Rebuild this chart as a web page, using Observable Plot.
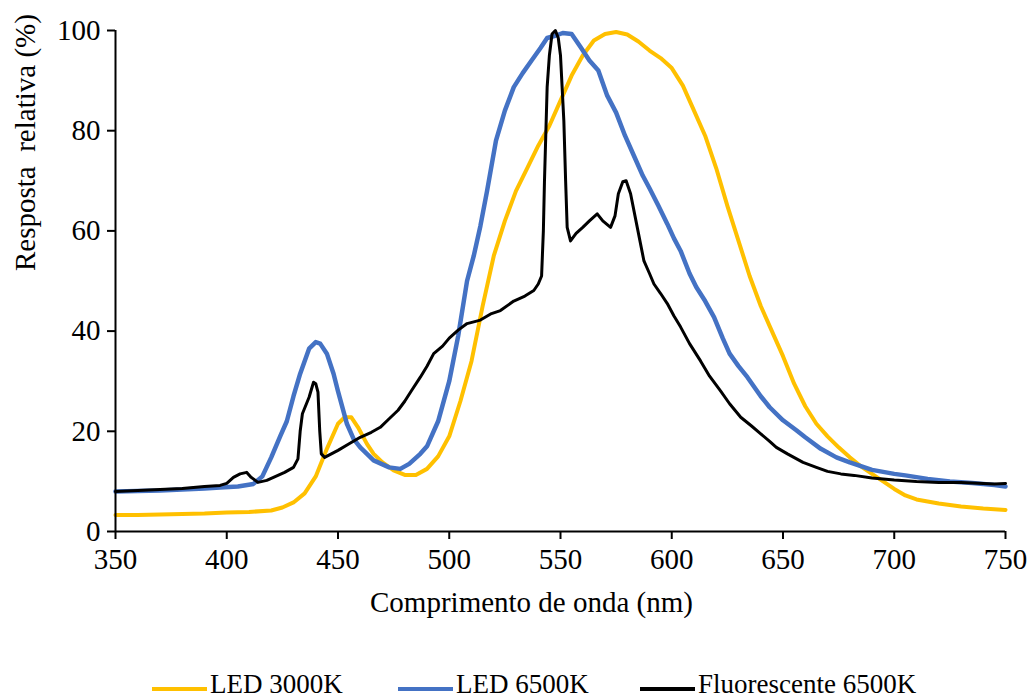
<!DOCTYPE html>
<html>
<head>
<meta charset="utf-8">
<script src="https://cdn.jsdelivr.net/npm/d3@7"></script>
<script src="https://cdn.jsdelivr.net/npm/@observablehq/plot@0.6"></script>
<style>
  html, body { margin: 0; padding: 0; background: #fff; }
  #wrap { width: 1032px; height: 700px; position: relative; overflow: hidden; font-family: 'Liberation Serif', 'DejaVu Serif', serif; }
  #legend { position: absolute; left: 0; top: 630px; width: 1032px; height: 70px; }
  .sw { position: absolute; height: 4px; top: 57px; width: 55px; }
  .lt { position: absolute; top: 41px; font-size: 27px; line-height: 27px; color: #000; white-space: nowrap; }
</style>
</head>
<body>
<div id="wrap"><div id="chart"></div><div id="legend"></div></div>
<script>
const seriesNames = ["LED 3000K", "LED 6500K", "Fluorescente 6500K"];
const seriesColors = ["#FFC000", "#4472C4", "#000000"];
const xTicks = [350, 400, 450, 500, 550, 600, 650, 700, 750];
const yTicks = [0, 20, 40, 60, 80, 100];
const xLabel = "Comprimento de onda (nm)";
const yLabel = "Resposta  relativa (%)";

const led3000Nm = [350,360,370,380,390,400,410,420,425,430,435,440,445,450,453,456,459,463,466,470,475,480,485,490,495,500,505,510,515,520,525,530,535,540,545,550,555,560,565,570,575,580,585,590,595,600,605,610,615,620,625,630,635,640,645,650,655,660,665,670,675,680,685,690,695,700,705,710,720,730,740,750];
const led3000Val = [3.3,3.3,3.4,3.5,3.6,3.8,3.9,4.2,4.8,5.8,7.6,11,16.5,21.5,22.8,22.8,20.8,17.5,15.5,13.8,12.2,11.3,11.3,12.5,15,19,26,34,45,55,62,68,72.5,77,81,86,91,95,98,99.3,99.7,99.2,97.8,96,94.5,92.5,89,84,79,72.5,65,58,51,45,40,35,29.5,25,21.5,19,16.8,14.8,13,11.5,10,8.5,7.2,6.4,5.6,5,4.6,4.3];

const led6500Nm = [350,360,370,380,390,397,405,412,416,420,424,427,430,433,437,440,442,445,448,450,454,457,460,466,473,478,482,487,490,495,500,504,508,511,514,517,521,525,529,533,537,541,544,548,551,555,559,563,567,571,575,579,583,587,590,594,598,601,604,608,611,615,619,623,626,630,634,640,644,650,656,660,667,674,680,690,700,705,715,725,735,745,750];
const led6500Val = [8,8.1,8.2,8.4,8.6,8.8,9,9.5,11,14.8,19,22,27,31.5,36.5,37.8,37.5,35.5,31.5,28,21.5,18.5,16.8,14.2,12.8,12.5,13.5,15.5,17,22,30,39,50,55,61,68,78,84,88.7,91.5,94,96.5,98.5,99,99.5,99.3,96.7,94,92,87,83.6,79,75,71,68.5,65,61.4,58.5,56,51.5,48.8,46,42.8,38.5,35.5,33,30.8,27,24.8,22.2,20.2,18.8,16.5,14.8,13.8,12.3,11.5,11.2,10.5,10,9.7,9.3,9];

const fluorNm = [350,360,370,380,390,397,400,403,406,409,411,414,418,421,426,430,432,433,434,437,439,440,441,441.8,442.5,444,447,450,455,460,465,469,473,477,480,483,487,490,493,497,500,504,508,514,519,523,529,534,538,540,541.5,542.3,542.8,544,545,546.2,547.7,549,550,551.5,552.3,553,554.5,557,560,563,566.5,569,572.5,574.5,576,578,579.5,581.5,584.5,587.5,590,592,595,598,601,604,608,613,617,622,626,631,636,640,644,647,652,659,665,670,676,682,690,700,710,720,730,740,745,750];
const fluorVal = [8,8.2,8.4,8.6,9,9.2,9.6,10.8,11.5,11.8,10.8,9.8,10.2,10.8,11.8,12.8,14.5,20,23.5,26.8,29.8,29.5,27.8,20,15.5,14.8,15.5,16.2,17.5,18.8,19.8,20.8,22.5,24.2,26,28.1,30.8,33,35.5,37,38.6,40.2,41.5,42.2,43.5,44.1,46,47,48.1,49.4,51,60,70,88.7,95,99.3,100,98.5,95,82,70,60.7,58,59.5,60.7,62,63.4,62,60.7,63,67.4,69.8,70,67.4,60.7,54,51.5,49.4,47.5,45.5,43,40.8,37.5,34,31,28,25.5,22.8,21,19.5,18,16.8,15.5,13.8,12.8,12,11.5,11.2,10.7,10.3,10,9.8,9.8,9.6,9.5,9.6];

const toRows = (name, xs, ys) => xs.map((x, i) => ({series: name, nm: x, val: ys[i]}));
const rows3000 = toRows(seriesNames[0], led3000Nm, led3000Val);
const rows6500 = toRows(seriesNames[1], led6500Nm, led6500Val);
const rowsFluor = toRows(seriesNames[2], fluorNm, fluorVal);

const font = "'Liberation Serif', 'DejaVu Serif', serif";

const chart = Plot.plot({
  width: 1032,
  height: 630,
  marginLeft: 115,
  marginRight: 27,
  marginTop: 30,
  marginBottom: 99,
  style: {fontFamily: font, fontSize: "29px", color: "#000", background: "#fff", overflow: "visible"},
  x: {domain: [350, 750]},
  y: {domain: [0, 100]},
  marks: [
    Plot.line(rows3000, {x: "nm", y: "val", stroke: seriesColors[0], strokeWidth: 4, curve: "linear"}),
    Plot.line(rows6500, {x: "nm", y: "val", stroke: seriesColors[1], strokeWidth: 4.5, curve: "linear"}),
    Plot.line(rowsFluor, {x: "nm", y: "val", stroke: seriesColors[2], strokeWidth: 3, curve: "linear"}),
    Plot.ruleX([350], {stroke: "#000", strokeWidth: 2}),
    Plot.ruleY([0], {stroke: "#000", strokeWidth: 2}),
    Plot.axisX({ticks: xTicks, tickSize: 8, tickPadding: 9, fontSize: 29, label: null, strokeWidth: 2, tickFormat: d => String(d)}),
    Plot.axisY({ticks: yTicks, tickSize: 8, tickPadding: 7, fontSize: 29, label: null, strokeWidth: 2, tickFormat: d => String(d)}),
    Plot.text([xLabel], {frameAnchor: "bottom", dx: -29, dy: 80, fontSize: 29, fill: "#000"}),
    Plot.text([yLabel], {frameAnchor: "left", dx: -90, dy: -10, rotate: -90, fontSize: 29, fill: "#000"})
  ]
});
document.getElementById("chart").appendChild(chart);

const legend = document.getElementById("legend");
const swLeft = [152, 398, 640];
seriesNames.forEach((name, i) => {
  const sw = document.createElement("div");
  sw.className = "sw";
  sw.style.left = swLeft[i] + "px";
  sw.style.background = seriesColors[i];
  legend.appendChild(sw);
  const t = document.createElement("div");
  t.className = "lt";
  t.style.left = (swLeft[i] + 58) + "px";
  t.textContent = name;
  legend.appendChild(t);
});
</script>
</body>
</html>
